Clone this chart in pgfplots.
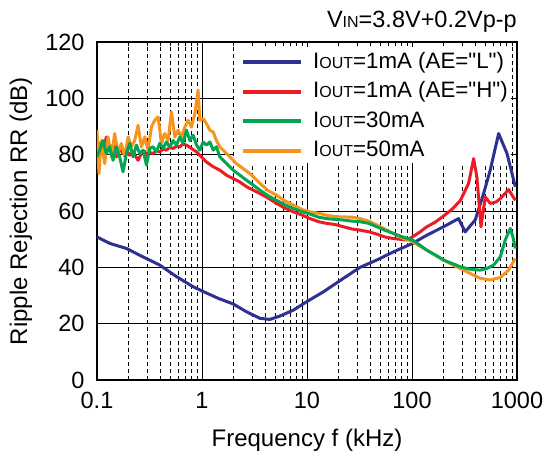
\documentclass[border=0pt]{standalone}
\usepackage{pgfplots}
\pgfplotsset{compat=1.18}
\usepackage{fontspec}
\setmainfont{Liberation Sans}
\definecolor{cblue}{HTML}{2E3192}
\definecolor{cred}{HTML}{ED1C24}
\definecolor{cgreen}{HTML}{00A651}
\definecolor{corange}{HTML}{F7941D}
\newcommand{\sub}[1]{{\fontsize{16}{16}\selectfont #1}}
\newcommand{\dq}{\XeTeXglyph\XeTeXcharglyph"22 }
\begin{document}
\begin{tikzpicture}
\begin{axis}[
 at={(0pt,0pt)}, anchor=south west,
 scale only axis, width=420pt, height=338pt,
 xmode=log, xmin=0.1, xmax=1000, ymin=0, ymax=120,
 ytick={0,20,...,120},
 xtick={0.1,1,10,100,1000},
 xticklabels={0.1,1,10,100,1000},
 grid=both,
 major grid style={black, line width=0.9pt},
 minor grid style={black, dashed, line width=0.7pt, dash pattern=on 4pt off 3pt},
 tick align=inside, major tick length=6pt, minor tick length=4pt,
 axis line style={line width=1.2pt},
 tick style={black, line width=0.8pt},
 /pgf/number format/assume math mode=true,
 tick label style={font=\fontsize{23.5}{27}\selectfont},
 xticklabel style={yshift=-9pt},
 yticklabel style={xshift=-9pt},
 label style={font=\fontsize{24}{28}\selectfont},
 xlabel={Frequency f (kHz)},
 ylabel={Ripple Rejection RR (dB)},
 xlabel style={at={(axis description cs:0.5,-0.177)}, anchor=center},
 ylabel style={at={(axis description cs:-0.181,0.5)}, anchor=center},
 legend style={at={(0.331,0.9911)}, anchor=north west, draw=none, fill=none,
   font=\fontsize{22.3}{26}\selectfont, inner xsep=5pt, inner ysep=6pt,
   row sep=7.5pt, column sep=8pt,
   nodes={inner xsep=2pt, inner ysep=0pt, text height=17pt, text depth=5pt}},
 legend cell align=left,
 legend image code/.code={\draw[#1, line width=4pt] (0pt,0pt) -- (58pt,0pt);},
 every axis plot/.append style={line width=3pt, line join=round},
]
\fill[white] (rel axis cs:0.327,0.642) rectangle (rel axis cs:0.986,0.985);
% Iout=1mA AE=L
\addplot[cblue] table[x expr=10^(\thisrow{lx}), y=y] {
lx y
-1.000 50.8
-0.879 48.5
-0.720 46.7
-0.561 43.7
-0.402 40.8
-0.243 36.7
-0.084 33.1
-0.005 31.7
0.154 29.0
0.297 27.0
0.425 24.2
0.552 21.9
0.647 21.5
0.742 22.7
0.870 24.8
0.997 27.8
1.156 31.3
1.347 36.1
1.506 40.0
1.665 42.6
1.824 45.5
2.005 48.5
2.141 51.4
2.300 54.4
2.443 57.3
2.507 52.6
2.602 56.8
2.682 66.2
2.745 74.5
2.825 87.5
2.905 80.4
2.984 68.6
};
\addlegendentry{I\sub{OUT}=1mA (AE=\dq L\dq)}
% Iout=1mA AE=H
\addplot[cred] table[x expr=10^(\thisrow{lx}), y=y] {
lx y
-1.000 81.6
-0.975 84.0
-0.943 80.4
-0.911 86.3
-0.879 81.6
-0.847 83.4
-0.816 79.2
-0.784 82.2
-0.752 80.4
-0.720 81.6
-0.688 79.8
-0.657 81.0
-0.609 78.0
-0.577 80.4
-0.545 81.2
-0.529 79.8
-0.498 80.8
-0.466 80.4
-0.434 81.4
-0.402 81.0
-0.370 82.0
-0.339 81.6
-0.307 82.6
-0.275 82.2
-0.243 83.0
-0.211 82.8
-0.180 83.8
-0.148 83.4
-0.100 82.2
-0.052 81.0
-0.005 79.2
0.043 77.4
0.107 75.7
0.170 74.5
0.234 72.7
0.297 71.5
0.361 70.3
0.425 68.6
0.488 67.4
0.552 66.2
0.630 64.6
0.711 62.7
0.790 61.0
0.870 59.7
0.950 58.6
1.029 57.3
1.110 56.2
1.188 55.6
1.270 55.2
1.347 54.4
1.430 53.6
1.506 53.2
1.590 52.6
1.665 51.8
1.740 50.8
1.824 50.2
1.951 49.7
2.005 50.8
2.070 52.4
2.141 54.4
2.220 56.0
2.300 58.2
2.380 60.6
2.459 63.6
2.539 69.8
2.587 78.6
2.618 72.1
2.657 54.4
2.698 65.0
2.745 62.7
2.800 63.2
2.841 64.4
2.920 67.6
2.984 63.8
};
\addlegendentry{I\sub{OUT}=1mA (AE=\dq H\dq)}
% Iout=50mA (drawn under green)
\addplot[corange, forget plot] table[x expr=10^(\thisrow{lx}), y=y] {
lx y
-1.000 88.7
-0.981 73.3
-0.959 85.0
-0.927 76.8
-0.895 86.3
-0.863 79.2
-0.831 87.5
-0.800 80.4
-0.768 84.0
-0.736 79.2
-0.704 86.3
-0.672 82.8
-0.641 85.0
-0.609 90.4
-0.577 82.8
-0.545 86.3
-0.514 81.6
-0.482 89.8
-0.450 92.2
-0.418 93.4
-0.386 84.0
-0.355 87.5
-0.323 85.0
-0.291 95.2
-0.259 86.3
-0.227 88.7
-0.196 86.3
-0.164 89.8
-0.132 92.2
-0.100 89.8
-0.068 94.6
-0.037 102.9
-0.021 92.2
0.011 92.8
0.043 91.0
0.075 88.7
0.107 88.0
0.138 85.0
0.170 82.8
0.202 81.6
0.234 80.4
0.281 78.6
0.329 76.8
0.393 75.0
0.456 73.3
0.520 71.0
0.552 69.8
0.630 67.2
0.711 65.6
0.790 63.6
0.870 62.1
0.950 60.6
1.029 59.7
1.110 59.2
1.188 58.5
1.270 58.0
1.347 57.9
1.430 57.8
1.506 57.3
1.590 56.4
1.665 55.0
1.740 53.6
1.824 52.0
1.910 50.4
2.005 49.1
2.070 47.6
2.141 46.1
2.220 44.4
2.300 42.6
2.380 41.0
2.459 39.6
2.555 37.8
2.651 36.1
2.745 35.5
2.841 36.4
2.920 39.0
2.984 43.2
};
% Iout=30mA
\addplot[cgreen] table[x expr=10^(\thisrow{lx}), y=y] {
lx y
-1.000 79.2
-0.975 81.6
-0.943 85.0
-0.911 80.4
-0.879 82.8
-0.847 78.0
-0.816 82.8
-0.784 79.2
-0.752 73.9
-0.720 80.4
-0.688 84.0
-0.657 79.2
-0.625 83.4
-0.593 80.4
-0.561 81.6
-0.529 76.3
-0.498 82.2
-0.466 82.8
-0.434 81.0
-0.402 84.0
-0.370 82.2
-0.339 84.5
-0.307 82.8
-0.275 85.0
-0.243 83.4
-0.211 86.3
-0.180 84.0
-0.148 88.7
-0.116 85.0
-0.084 86.9
-0.052 83.4
-0.021 81.6
0.011 84.5
0.043 83.4
0.075 84.5
0.107 81.6
0.138 82.8
0.170 79.2
0.202 78.0
0.234 76.8
0.297 74.5
0.361 72.7
0.425 70.9
0.488 69.2
0.552 67.4
0.630 65.4
0.711 63.8
0.790 62.2
0.870 60.9
0.950 59.8
1.029 58.9
1.110 57.8
1.188 57.3
1.270 57.0
1.347 56.8
1.430 56.4
1.506 56.2
1.590 55.6
1.665 54.4
1.740 53.2
1.824 52.0
1.910 50.8
2.005 49.7
2.070 48.0
2.141 46.1
2.220 44.4
2.300 42.6
2.380 41.4
2.459 40.2
2.555 39.3
2.651 39.0
2.714 39.6
2.777 40.8
2.841 43.7
2.888 49.7
2.936 53.8
2.961 50.8
2.984 46.7
};
\addlegendentry{I\sub{OUT}=30mA}
\addlegendimage{corange}
\addlegendentry{I\sub{OUT}=50mA}
\end{axis}
\node[anchor=base east, font=\fontsize{23.5}{27}\selectfont, inner sep=0pt] at (420pt,352pt) {V\sub{IN}=3.8V+0.2Vp-p};
\pgfresetboundingbox
\path[use as bounding box] (-97pt,-75pt) rectangle (447pt,380pt);
\end{tikzpicture}
\end{document}
